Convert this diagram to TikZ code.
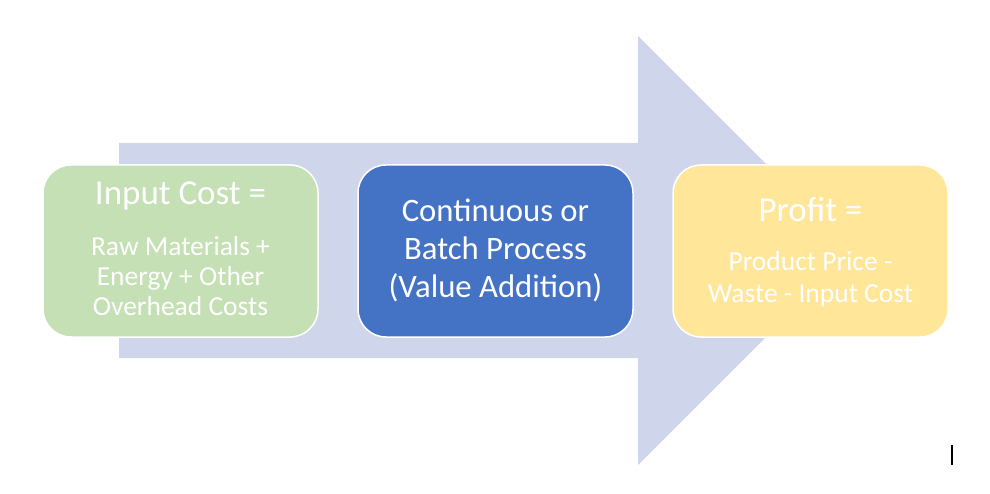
\documentclass[tikz,border=0pt]{standalone}
\usepackage{fontspec}
\setmainfont{Carlito}
\definecolor{arrowfill}{HTML}{CFD5EA}
\definecolor{greenfill}{HTML}{C5E0B4}
\definecolor{bluefill}{HTML}{4472C4}
\definecolor{yellowfill}{HTML}{FFE699}
\tikzset{
  stagebox/.style={draw=white, line width=1.5pt, rounded corners=28pt, minimum width=275pt, minimum height=172pt, inner sep=0pt},
  bigtxt/.style={text=white, anchor=base, inner sep=0pt, font=\fontsize{35}{42}\selectfont},
  smalltxt/.style={text=white, anchor=base, inner sep=0pt, font=\fontsize{27.5}{33}\selectfont},
  midtxt/.style={text=white, anchor=base, inner sep=0pt, font=\fontsize{32.7}{39}\selectfont},
}
\begin{document}
\begin{tikzpicture}[x=1pt, y=-1pt]
\useasboundingbox (0,0) rectangle (990,494);
% big arrow
\fill[arrowfill] (119,143) -- (638,143) -- (638,36) -- (852.5,250.5) -- (638,465) -- (638,358) -- (119,358) -- cycle;
% boxes
\node[stagebox, fill=greenfill] (input) at (180.5,251) {};
\node[stagebox, fill=bluefill] (process) at (495.5,251) {};
\node[stagebox, fill=yellowfill] (profit) at (810.5,251) {};
% texts
\node[bigtxt] (inT) at (180.5,205) {Input Cost =};
\node[smalltxt] (in1) at (180.5,255) {Raw Materials +};
\node[smalltxt] (in2) at (180.5,286) {Energy + Other};
\node[smalltxt] (in3) at (180.5,315) {Overhead Costs};
\node[midtxt] (pr1) at (495.5,222) {Continuous or};
\node[midtxt] (pr2) at (495.5,260) {Batch Process};
\node[midtxt] (pr3) at (495.5,298) {(Value Addition)};
\node[bigtxt] (pfT) at (810.5,222) {Profit =};
\node[smalltxt] (pf1) at (810.5,270) {Product Price -};
\node[smalltxt] (pf2) at (810.5,302) {Waste - Input Cost};
% cursor mark
\coordinate (c1) at (952,445);
\coordinate (c2) at (952,465);
\draw[black, line width=1.5pt] (c1) -- (c2);
\end{tikzpicture}
\end{document}
